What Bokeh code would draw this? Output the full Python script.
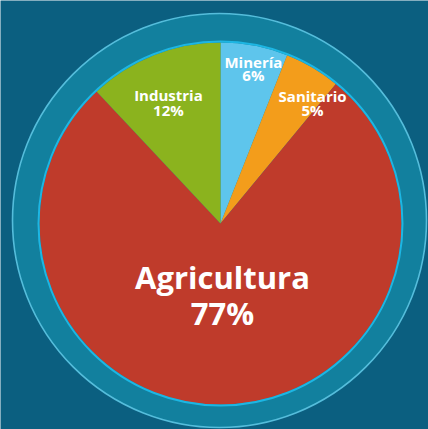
import math
from bokeh.plotting import figure
from bokeh.models import Range1d, ColumnDataSource
from bokeh.core.properties import value
from bokeh.embed import file_html
from bokeh.resources import INLINE

# ---- data ----
sectors = ["Minería", "Sanitario", "Agricultura", "Industria"]
shares = [6, 5, 77, 12]
pct_labels = ["6%", "5%", "77%", "12%"]
colors = ["#5ec5ec", "#f39d1b", "#bf3b2b", "#8bb31e"]

# ---- layout / style ----
BG = "#0b5f80"
RING_FILL = "#12809e"
RING_LINE = "#55bddb"
PIE_EDGE = "#1db6e3"
PIE_R = 182
RING_R = 207
# label placement (polar, degrees clockwise from top, radius) and font sizes
label_polar = [(11.5, 165), (35.9, 157), (177.9, 54), (-22.0, 139)]
name_size = ["15px", "15px", "31px", "15px"]
pct_gap = [13, 14, 36, 15]

p = figure(width=428, height=429, output_backend="svg", toolbar_location=None,
           x_range=Range1d(-220, 208), y_range=Range1d(-206, 223),
           min_border=0, background_fill_color=BG, border_fill_color=BG)
p.axis.visible = False
p.grid.visible = False
p.outline_line_color = None

# outer ring
p.circle(x=[-1], y=[3], radius=RING_R, fill_color=RING_FILL,
         line_color=RING_LINE, line_width=1.6)

# pie wedges, clockwise from 12 o'clock
total = sum(shares)
starts, ends, cum = [], [], 0.0
for s in shares:
    starts.append(math.pi / 2 - 2 * math.pi * cum / total)
    cum += s
    ends.append(math.pi / 2 - 2 * math.pi * cum / total)
src = ColumnDataSource(dict(x=[0] * len(shares), y=[0] * len(shares),
                            start=starts, end=ends, color=colors))
p.wedge(x="x", y="y", radius=PIE_R - 1, start_angle="start", end_angle="end",
        direction="clock", fill_color="color", line_color=None, source=src)
p.circle(x=[0], y=[0], radius=PIE_R, fill_color=None, line_color=PIE_EDGE, line_width=2)

# labels
for name, pct, (ang, r), fs, gap in zip(sectors, pct_labels, label_polar, name_size, pct_gap):
    a = math.radians(ang)
    lx, ly = r * math.sin(a), r * math.cos(a)
    p.text(x=[lx], y=[ly], text=[name], text_color="white", text_font=value("Open Sans"),
           text_font_style="bold", text_font_size=fs, text_align="center",
           text_baseline="alphabetic")
    p.text(x=[lx], y=[ly - gap], text=[pct], text_color="white", text_font=value("Open Sans"),
           text_font_style="bold", text_font_size=fs, text_align="center",
           text_baseline="alphabetic")

open("out.html", "w").write(file_html(p, INLINE))
